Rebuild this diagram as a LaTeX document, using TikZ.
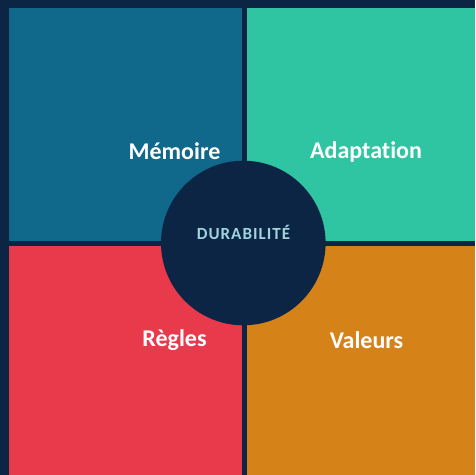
\documentclass[tikz,border=0pt]{standalone}
\usepackage{fontspec}
\setmainfont{Carlito}[Ligatures=NoCommon]
\usetikzlibrary{positioning}
\definecolor{navy}{HTML}{0C2545}
\definecolor{memblue}{HTML}{10688A}
\definecolor{adateal}{HTML}{30C5A2}
\definecolor{regred}{HTML}{E83A4B}
\definecolor{valorange}{HTML}{D58219}
\definecolor{durtext}{HTML}{A0D4DC}
\tikzset{
	quadlabel/.style={text=white, font=\bfseries\fontsize{24}{28}\selectfont, inner sep=0pt},
	hublabel/.style={text=durtext, font=\bfseries\fontsize{17}{19}\selectfont\addfontfeature{LetterSpace=6}, inner sep=0pt}
}

\begin{document}
\begin{tikzpicture}[x=1pt, y=-1pt]
		%%%%% START %%%%%
		
		\fill[navy] (0, 0) rectangle (475, 475);
		
		\fill[memblue] (9, 8) rectangle (241.5, 241);
		\fill[adateal] (247, 8) rectangle (475, 241);
		\fill[regred] (9, 246) rectangle (241.5, 475);
		\fill[valorange] (247, 246) rectangle (475, 475);
		
		\fill[navy] (243.3, 243) circle (82.3);
		
		\node[quadlabel] (memoire) at (174.5, 151.5) {Mémoire};
		\node[quadlabel] (adaptation) at (366, 151.5) {Adaptation};
		\node[quadlabel] (regles) at (174.5, 340) {Règles};
		\node[quadlabel] (valeurs) at (366.5, 340) {Valeurs};
		
		\node[hublabel] (durabilite) at (243.5, 232.5) {DURABILITÉ};
		
		%%%%% END %%%%%
	\end{tikzpicture}
\end{document}
